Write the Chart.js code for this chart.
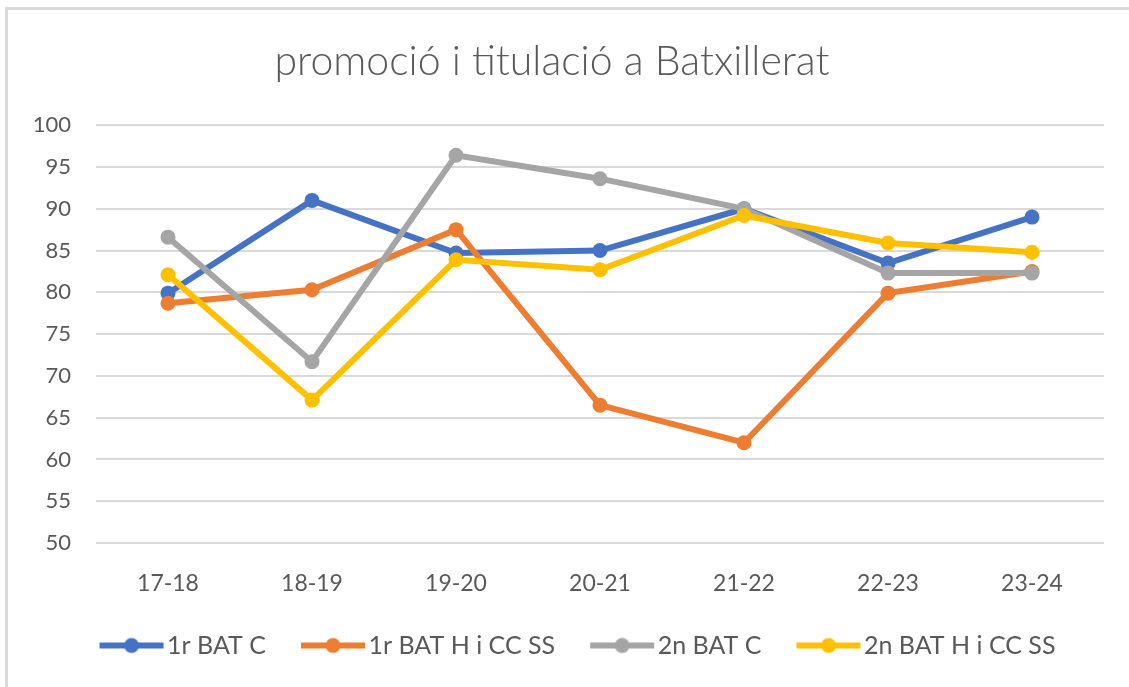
<!DOCTYPE html>
<html>
<head>
<meta charset="utf-8">
<script src="https://cdn.jsdelivr.net/npm/chart.js@4/dist/chart.umd.min.js"></script>
<style>
	html, body { margin: 0; padding: 0; background: #fff; }
	#frame {
		position: absolute; left: 5px; top: 7px; right: 0; bottom: 0;
		border-top: 3px solid #dadada; border-left: 3px solid #dadada;
	}
	#wrap { position: absolute; left: 0; top: 0; width: 1129px; height: 687px; }
</style>
</head>
<body>
<div id="frame"></div>
<div id="wrap"><canvas id="chart"></canvas></div>
<script>
// ------------------------------------------------------------ //
// --------------------        DATA        -------------------- //
// ------------------------------------------------------------ //

const courses = ['17-18', '18-19', '19-20', '20-21', '21-22', '22-23', '23-24'];
const seriesNames = ['1r BAT C', '1r BAT H i CC SS', '2n BAT C', '2n BAT H i CC SS'];
const bat1C = [79.9, 91.0, 84.7, 85.0, 90.0, 83.5, 89.0];
const bat1HCS = [78.7, 80.3, 87.5, 66.5, 62.0, 79.9, 82.5];
const bat2C = [86.6, 71.7, 96.4, 93.6, 90.0, 82.3, 82.3];
const bat2HCS = [82.1, 67.1, 83.9, 82.7, 89.2, 85.9, 84.8];
const yTicks = [50, 55, 60, 65, 70, 75, 80, 85, 90, 95, 100];

const colors = ['#4472C4', '#ED7D31', '#A5A5A5', '#FFC000'];
const textColor = '#595959';
const font = 'Lato, "Open Sans", sans-serif';

// legend marker: line with a dot in the middle, pushed right so it sits close to the text
function legendMarker(color) {
	const c = document.createElement('canvas');
	c.width = 80;
	c.height = 18;
	const g = c.getContext('2d');
	g.strokeStyle = color;
	g.lineWidth = 6;
	g.beginPath();
	g.moveTo(12, 9);
	g.lineTo(76, 9);
	g.stroke();
	g.fillStyle = color;
	g.beginPath();
	g.arc(44, 9, 7.5, 0, Math.PI * 2);
	g.fill();
	return c;
}
const markers = colors.map(legendMarker);

const values = [bat1C, bat1HCS, bat2C, bat2HCS];

// the legend in the original sits a bit right of centre
const legendShift = {
	id: 'legendShift',
	afterLayout(chart) {
		chart.legend.left += 26;
		chart.legend.right += 26;
	},
};

const ctx = document.getElementById('chart');
new Chart(ctx, {
	type: 'line',
	data: {
		labels: courses,
		datasets: values.map((data, i) => ({
			label: seriesNames[i],
			data,
			borderColor: colors[i],
			backgroundColor: colors[i],
			borderWidth: 6,
			pointRadius: 7.5,
			pointHoverRadius: 7.5,
			pointBorderWidth: 0,
			tension: 0,
			// later series on top, like Excel
			order: values.length - i,
		})),
	},
	plugins: [legendShift],
	options: {
		responsive: true,
		maintainAspectRatio: false,
		animation: false,
		layout: { padding: { left: 0, right: 25, top: 0, bottom: 19 } },
		scales: {
			x: {
				offset: true,
				grid: { display: false },
				border: { display: false },
				afterFit: (scale) => {
					scale.height = 54;
				},
				ticks: {
					color: textColor,
					font: { family: font, size: 23 },
					padding: 19,
				},
			},
			y: {
				min: 50,
				max: 100,
				afterBuildTicks: (scale) => {
					scale.ticks = yTicks.map((v) => ({ value: v }));
				},
				afterFit: (scale) => {
					scale.width = 96;
				},
				grid: { color: '#d9d9d9', lineWidth: 2, drawTicks: false },
				border: { display: false },
				ticks: {
					color: textColor,
					font: { family: font, size: 22 },
					padding: 25,
				},
			},
		},
		plugins: {
			title: {
				display: true,
				text: 'promoció i titulació a Batxillerat',
				color: textColor,
				font: { family: font, size: 41, weight: 300, lineHeight: 1.2 },
				padding: { top: 37, bottom: 39 },
			},
			legend: {
				position: 'bottom',
				labels: {
					usePointStyle: true,
					pointStyleWidth: 54,
					color: textColor,
					font: { family: font, size: 25 },
					padding: 36,
					sort: (a, b) => a.datasetIndex - b.datasetIndex,
					generateLabels: (chart) => {
						const items = Chart.defaults.plugins.legend.labels.generateLabels(chart);
						items.forEach((item) => {
							item.pointStyle = markers[item.datasetIndex];
						});
						return items;
					},
				},
			},
			tooltip: { enabled: false },
		},
	},
});
</script>
</body>
</html>
